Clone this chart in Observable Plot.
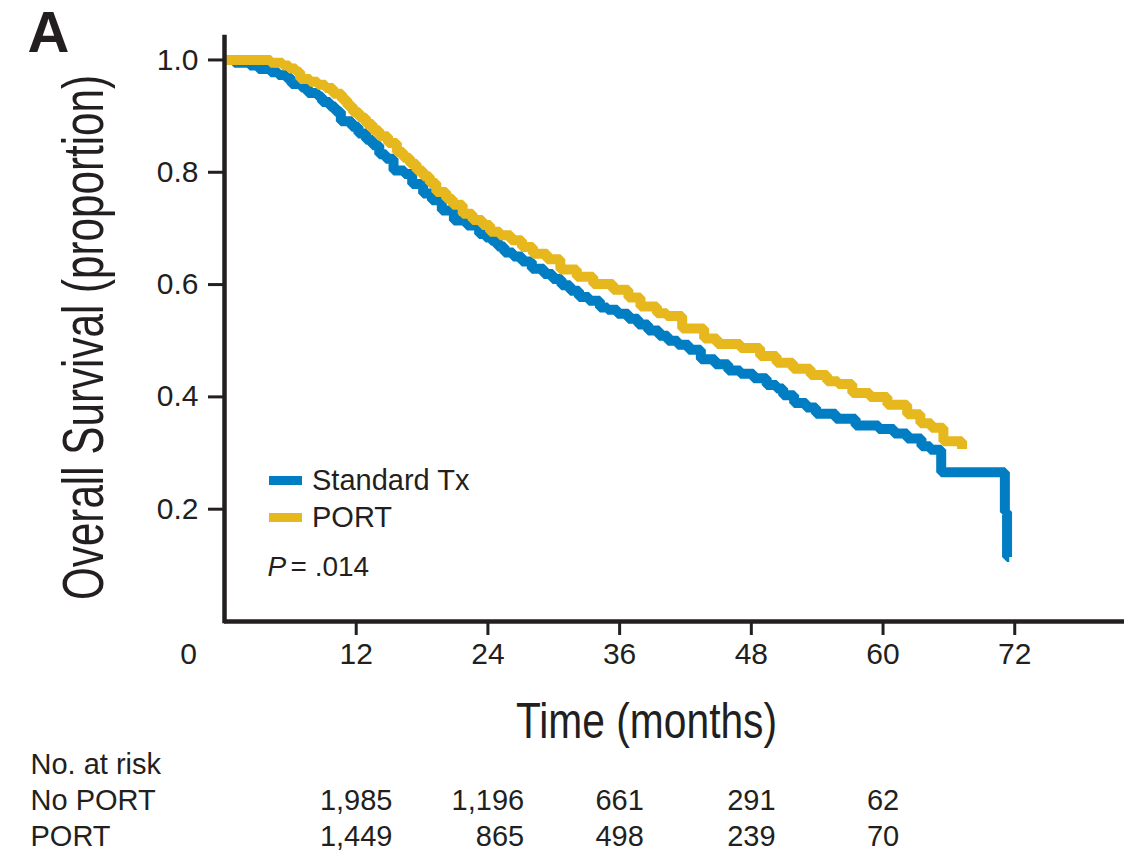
<!DOCTYPE html>
<html><head><meta charset="utf-8">
<script src="https://cdn.jsdelivr.net/npm/d3@7"></script>
<script src="https://cdn.jsdelivr.net/npm/@observablehq/plot@0.6"></script>
<style>
body{margin:0;background:#fff;}
#wrap{position:relative;width:1138px;height:852px;font-family:"Liberation Sans",Arial,sans-serif;color:#231f20;overflow:hidden}
#wrap svg{display:block}
.leg{position:absolute;left:269px;display:flex;align-items:center;font-size:29px;line-height:1;white-space:nowrap}
.sw{width:33px;height:9px;margin-right:10px}
</style></head><body><div id="wrap"></div>
<script>
// ---- data ----
const stdTime = [0,0.9,2.3,3.1,4.2,4.9,5.6,6.1,7.0,7.6,8.5,8.9,9.6,10.1,10.6,11.6,12.2,12.9,13.5,14.1,14.7,15.4,16.4,17.1,18.1,18.9,19.8,20.9,22.1,23.2,23.8,24.3,24.9,25.5,26.3,27.1,28.0,29.1,29.9,30.7,31.5,32.3,33.2,34.2,34.9,35.8,36.8,37.7,38.6,39.6,40.4,41.3,42.3,43.4,44.7,45.9,47.0,48.2,49.4,50.3,50.9,51.9,53.0,53.9,55.7,57.5,59.6,61.0,62.2,63.5,64.3,65.3,71.1,71.3,71.5];
const stdSurv = [1.000,0.995,0.990,0.984,0.978,0.973,0.968,0.957,0.951,0.941,0.935,0.925,0.917,0.908,0.891,0.881,0.869,0.858,0.848,0.832,0.824,0.803,0.797,0.779,0.762,0.750,0.732,0.714,0.705,0.690,0.684,0.678,0.668,0.657,0.650,0.641,0.628,0.619,0.610,0.599,0.589,0.578,0.571,0.559,0.555,0.548,0.539,0.529,0.518,0.509,0.500,0.493,0.484,0.467,0.458,0.447,0.441,0.433,0.421,0.415,0.403,0.389,0.381,0.370,0.361,0.349,0.343,0.335,0.326,0.312,0.306,0.266,0.195,0.115,0.115];
const portTime = [0,4.2,5.3,5.9,6.5,6.9,7.8,8.5,9.2,9.9,10.7,11.2,11.7,12.3,12.9,13.5,14.1,14.9,15.7,16.3,16.9,17.5,18.1,18.7,19.3,20.2,20.8,21.7,22.6,23.5,24.2,25.1,26.1,27.1,28.1,29.4,30.6,32.1,33.6,35.4,36.8,37.9,39.4,40.3,41.7,43.7,44.9,47.0,48.8,50.3,51.8,53.4,54.9,55.9,57.2,58.8,60.4,62.2,63.4,64.4,65.5,67.2];
const portSurv = [1.000,0.995,0.990,0.985,0.979,0.966,0.961,0.956,0.950,0.940,0.929,0.918,0.907,0.897,0.886,0.875,0.864,0.852,0.836,0.826,0.815,0.803,0.793,0.781,0.765,0.753,0.742,0.726,0.715,0.706,0.694,0.688,0.679,0.667,0.655,0.645,0.627,0.614,0.601,0.591,0.577,0.561,0.549,0.544,0.522,0.504,0.494,0.487,0.473,0.461,0.450,0.439,0.428,0.423,0.407,0.400,0.386,0.369,0.353,0.345,0.321,0.307];
const seriesNames = ["Standard Tx", "PORT"];
const seriesColors = ["#007dc3", "#e6b81e"];
const xTicks = [12,24,36,48,60,72];
const yTicks = [0.2,0.4,0.6,0.8,1.0];
const riskTimes = [12,24,36,48,60];
const riskRows = ["No PORT", "PORT"];
const riskNoPort = [1985,1196,661,291,62];
const riskPort = [1449,865,498,239,70];
const riskHeader = "No. at risk";
const panelLabel = "A";
const yTitle = "Overall Survival (proportion)";
const xTitle = "Time (months)";
const pText = "P";
const pValue = "= .014";

// ---- helpers ----
const ctx = document.createElement("canvas").getContext("2d");
const stdData = stdTime.map((t,i)=>({t, s: stdSurv[i]}));
const portData = portTime.map((t,i)=>({t, s: portSurv[i]}));
const ink = "#231f20";
const baseFont = "'Liberation Sans', Arial, sans-serif";

const main = Plot.plot({
  width: 1138, height: 748,
  marginLeft: 224, marginRight: 14, marginTop: 37, marginBottom: 127,
  style: {fontFamily: baseFont, fontSize: "30px", color: ink, background: "#fff", overflow: "visible"},
  x: {domain: [0, 82]},
  y: {domain: [0, 1.04]},
  marks: [
    Plot.line(stdData, {x: "t", y: "s", curve: "step-after", stroke: seriesColors[0], strokeWidth: 10, strokeLinejoin: "miter", strokeLinecap: "butt"}),
    Plot.line(portData, {x: "t", y: "s", curve: "step-after", stroke: seriesColors[1], strokeWidth: 10, strokeLinejoin: "miter", strokeLinecap: "butt"}),
    Plot.axisX(xTicks, {tickSize: 14, tickPadding: 7, strokeWidth: 3, label: null, stroke: ink}),
    Plot.axisX([0], {tickSize: 0, tickPadding: 21, dx: -36, label: null}),
    Plot.axisY(yTicks, {tickSize: 16, tickPadding: 10, strokeWidth: 3, label: null, stroke: ink, tickFormat: d3.format(".1f")}),
    Plot.ruleX([0], {y1: 0, y2: 1.04, stroke: ink, strokeWidth: 4.5, strokeLinecap: "square"}),
    Plot.ruleY([0], {x1: 0, x2: 82, stroke: ink, strokeWidth: 4.5}),
    Plot.text([panelLabel], {text: d=>d, frameAnchor: "top-left", textAnchor: "start", lineAnchor: "top", dx: -197, dy: -27, fontSize: 58, fontWeight: "bold", fill: ink}),
    Plot.text([yTitle], {text: d=>d, frameAnchor: "left", textAnchor: "middle", lineAnchor: "middle", rotate: -90, dx: -140, dy: 8, fontSize: 57, fill: ink}),
    Plot.text([xTitle], {text: d=>d, frameAnchor: "bottom", textAnchor: "middle", lineAnchor: "top", dx: -28, dy: 81, fontSize: 50, fill: ink}),
    Plot.text([pText], {text: d=>d, frameAnchor: "bottom-left", textAnchor: "start", dx: 43, dy: -46, fontSize: 28, fontStyle: "italic", fill: ink}),
    Plot.text([pValue], {text: d=>d, frameAnchor: "bottom-left", textAnchor: "start", dx: 66, dy: -46, fontSize: 28, fill: ink})
  ]
});

// risk table
const rowNames = [riskHeader, ...riskRows];
const fmt = d3.format(",");
ctx.font = "29px 'Liberation Sans', Arial, sans-serif";
const riskMarks = riskTimes.map((t, i) => {
  const cells = [{row: riskRows[0], v: fmt(riskNoPort[i])}, {row: riskRows[1], v: fmt(riskPort[i])}];
  const half = d3.max(cells, c => ctx.measureText(c.v).width) / 2;
  return Plot.text(cells, {x: () => t, y: "row", text: "v", textAnchor: "end", dx: half, fill: ink});
});
const table = Plot.plot({
  width: 1138, height: 104,
  marginLeft: 224, marginRight: 14, marginTop: 16, marginBottom: 16,
  style: {fontFamily: baseFont, fontSize: "29px", color: ink, background: "#fff", overflow: "visible"},
  x: {domain: [0, 82], axis: null},
  y: {type: "point", domain: rowNames, padding: 0, axis: null},
  marks: [
    Plot.text(rowNames, {y: d=>d, text: d=>d, frameAnchor: "left", textAnchor: "start", dx: -194, fill: ink}),
    ...riskMarks
  ]
});

const wrap = document.getElementById("wrap");
wrap.appendChild(main);
wrap.appendChild(table);

// condensed look for the two axis titles: squeeze about the text's own centre
function condense(svg, str, sx, sy){
  svg.querySelectorAll("text").forEach(t => {
    if (t.textContent !== str) return;
    const r = t.getBoundingClientRect();
    const parent = t.parentNode;
    const pt = svg.createSVGPoint();
    pt.x = r.left + r.width / 2; pt.y = r.top + r.height / 2;
    const c = pt.matrixTransform(parent.getScreenCTM().inverse());
    const g = document.createElementNS("http://www.w3.org/2000/svg", "g");
    parent.insertBefore(g, t); g.appendChild(t);
    g.setAttribute("transform", `translate(${c.x},${c.y}) scale(${sx},${sy}) translate(${-c.x},${-c.y})`);
  });
}
condense(main, yTitle, 1, 0.74);
condense(main, xTitle, 0.815, 1);

// legend (overlaid in the plot area)
seriesNames.forEach((name, i) => {
  const d = document.createElement("div");
  d.className = "leg";
  d.style.top = (465.5 + i * 37) + "px";
  const sw = document.createElement("div");
  sw.className = "sw"; sw.style.background = seriesColors[i];
  const tx = document.createElement("span"); tx.textContent = name;
  d.appendChild(sw); d.appendChild(tx);
  wrap.appendChild(d);
});
</script></body></html>
